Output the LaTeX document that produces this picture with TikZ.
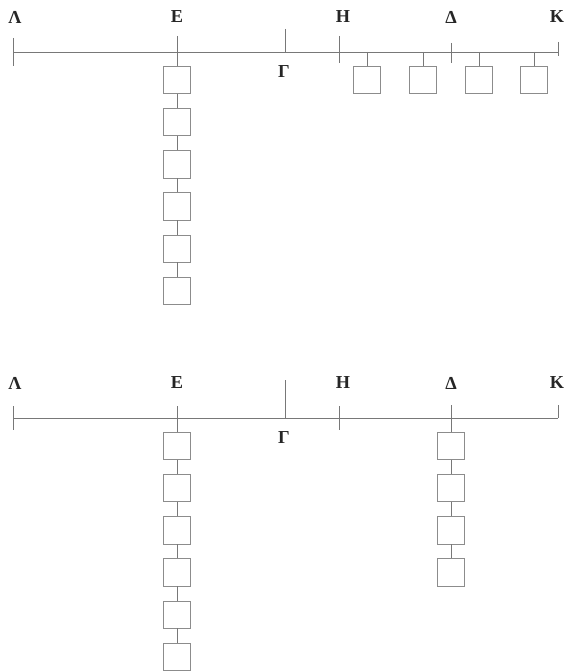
\documentclass[tikz,border=0pt]{standalone}
\usepackage{fontspec}
\setmainfont{Liberation Serif}
\usetikzlibrary{positioning}
\definecolor{linegray}{RGB}{120,120,120}
\definecolor{boxgray}{RGB}{140,140,140}

\begin{document}
\begin{tikzpicture}[
x=0.25mm, y=-0.25mm,
node distance=3.6mm,
every node/.style={font=\fontsize{13}{15}\selectfont\bfseries, text=black!85},
cell/.style={rectangle, draw=boxgray, thin, minimum width=6.8mm, minimum height=6.8mm, inner sep=0pt},
rule/.style={draw=linegray, thin}
]
\useasboundingbox (0,0) rectangle (564,671);

% Upper figure: bar and ticks

\coordinate (L1) at (13,52);
\coordinate (K1) at (558,52);
\draw[rule] (L1) -- (K1);
\foreach \n/\x/\a/\b in {L/13/38/66, G/285/29/52, H/339/36/63, D/451/43/63, K/558/42/56}{
  \coordinate (\n1a) at (\x,\a);
  \coordinate (\n1b) at (\x,\b);
  \draw[rule] (\n1a) -- (\n1b);
}
\coordinate (E1a) at (177,36);

\node (lamA) at (15,17) {Λ};
\node (epsA) at (177,17) {Ε};
\node (etaA) at (343,17) {Η};
\node (delA) at (451,17) {Δ};
\node (kapA) at (557,17) {Κ};
\node (gamA) at (284,72) {Γ};

% Upper figure: column under E

\node[cell, anchor=north] (ua1) at (177,66) {};
\draw[rule] (E1a) -- (ua1);
\foreach \i [remember=\i as \j (initially 1)] in {2,...,6}{
  \node[cell, below=of ua\j] (ua\i) {};
  \draw[rule] (ua\j) -- (ua\i);
}

% Upper figure: row between H and K

\foreach \i/\x in {1/367, 2/423, 3/479, 4/534}{
  \coordinate (ub\i) at (\x,52);
  \node[cell, anchor=north] (uc\i) at (\x,66) {};
  \draw[rule] (ub\i) -- (uc\i);
}

% Lower figure: bar and ticks

\coordinate (L2) at (13,418);
\coordinate (K2) at (558,418);
\draw[rule] (L2) -- (K2);
\foreach \n/\x/\a/\b in {L/13/406/430, G/285/380/418, H/339/406/430, K/558/405/418}{
  \coordinate (\n2a) at (\x,\a);
  \coordinate (\n2b) at (\x,\b);
  \draw[rule] (\n2a) -- (\n2b);
}
\coordinate (E2a) at (177,406);
\coordinate (D2a) at (451,405);

\node (lamB) at (15,383) {Λ};
\node (epsB) at (177,383) {Ε};
\node (etaB) at (343,383) {Η};
\node (delB) at (451,383) {Δ};
\node (kapB) at (557,383) {Κ};
\node (gamB) at (284,438) {Γ};

% Lower figure: column under E

\node[cell, anchor=north] (la1) at (177,432) {};
\draw[rule] (E2a) -- (la1);
\foreach \i [remember=\i as \j (initially 1)] in {2,...,6}{
  \node[cell, below=of la\j] (la\i) {};
  \draw[rule] (la\j) -- (la\i);
}

% Lower figure: column under Delta

\node[cell, anchor=north] (ld1) at (451,432) {};
\draw[rule] (D2a) -- (ld1);
\foreach \i [remember=\i as \j (initially 1)] in {2,...,4}{
  \node[cell, below=of ld\j] (ld\i) {};
  \draw[rule] (ld\j) -- (ld\i);
}

\end{tikzpicture}
\end{document}
